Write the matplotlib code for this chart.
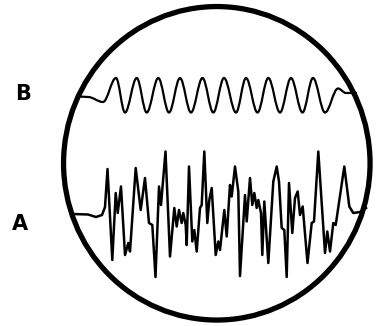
import matplotlib
matplotlib.use("Agg")
import matplotlib.pyplot as plt
from matplotlib.path import Path
from matplotlib.patches import Ellipse, PathPatch

# trace B: extrema of the clean sine trace (pixel coords, y down)
b_x = [79, 88, 103, 116, 125, 136.7, 146.7, 158.3, 169, 180, 191, 202.5, 213.3,
       224, 236, 246, 257.5, 268.3, 280, 291, 302.5, 313, 325, 338, 346, 357]
b_y = [96.5, 97, 102, 78, 112.5, 78, 112.5, 78, 112.5, 78, 112.5, 78, 112.5,
       78, 112.5, 78, 112.5, 78, 112.5, 78, 112.5, 78, 112.5, 88.5, 93, 93]

# trace A: noisy trace vertices
a_x = [72, 88, 96, 102, 105, 107.5, 112.3, 115.7, 117.7, 121, 125, 128.3, 130,
       135.7, 140.7, 145, 149, 152.3, 155.5, 159, 161, 165.5, 170, 174.3, 176.7,
       179, 181.7, 183.3, 185.7, 186.7, 189, 192.3, 194.3, 196.7, 200, 201.7,
       204.3, 207.3, 209.3, 211.7, 215.7, 218.3, 220, 224.3, 226.7, 230, 231.7,
       235, 238.3, 240, 245, 246.7, 250, 252.3, 254.3, 256.7, 258.3, 261, 262.3,
       264.3, 268.3, 273.3, 276.7, 279, 281.7, 284.3, 286.7, 289, 292.3, 295,
       297.7, 300, 302.7, 307.5, 311.7, 314, 318.3, 325, 327.3, 330, 333.3,
       335.7, 344.3, 349.3, 353.3, 360, 366]
a_y = [214, 214.5, 217, 215, 207, 169, 260, 193, 213, 186.5, 255, 243, 251.5,
       168, 210, 178, 223, 225, 277, 186.5, 205, 151.5, 256.5, 208, 226.5,
       210, 223, 213, 225, 245, 166.5, 241.5, 230, 251.5, 208, 205,
       151.5, 223, 200, 188, 255, 241.5, 250, 210, 236.5, 185, 196.5,
       166.5, 191.5, 276, 195, 221.5, 178, 205, 193, 208, 200, 213, 255,
       201.5, 263, 181.5, 166.5, 181.5, 228, 230, 277, 183, 233, 198,
       191.5, 215, 206.5, 263, 223, 221.5, 151.5, 253, 231.5, 251.5, 223,
       225, 166.5, 206.5, 213, 212, 208]

labels = ["B", "A"]
label_pos = [(23.5, 94.5), (20, 224.5)]

fig = plt.figure(figsize=(3.76, 3.26), dpi=100)
ax = fig.add_axes([0, 0, 1, 1])
ax.set_xlim(0, 376)
ax.set_ylim(326, 0)
ax.axis("off")

# screen outline
ax.add_patch(Ellipse((216.8, 163.3), 306.5, 313.5, fill=False, lw=3.8, ec="black"))

# smooth B trace: cubic segments with flat tangents at each extremum
verts = [(b_x[0], b_y[0])]
codes = [Path.MOVETO]
for i in range(1, len(b_x)):
    x0, y0, x1, y1 = b_x[i - 1], b_y[i - 1], b_x[i], b_y[i]
    d = (x1 - x0) * 0.36
    verts += [(x0 + d, y0), (x1 - d, y1), (x1, y1)]
    codes += [Path.CURVE4] * 3
ax.add_patch(PathPatch(Path(verts, codes), fill=False, lw=1.6, ec="black"))

ax.plot(a_x, a_y, color="black", lw=1.8, solid_joinstyle="round")

for t, (x, y) in zip(labels, label_pos):
    ax.text(x, y, t, fontsize=15, fontweight="bold", ha="center", va="center",
            color="black")

fig.savefig("out.png", dpi=100)
